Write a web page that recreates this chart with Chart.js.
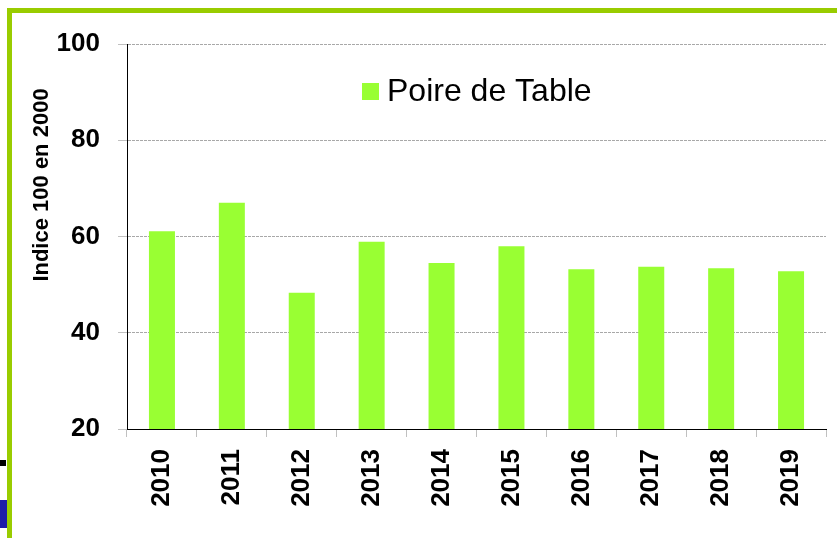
<!DOCTYPE html>
<html>
<head>
<meta charset="utf-8">
<script src="https://cdn.jsdelivr.net/npm/chart.js@4/dist/chart.umd.min.js"></script>
<style>
  html, body { margin: 0; padding: 0; background: #fff; }
  #wrap { position: relative; width: 837px; height: 538px; overflow: hidden; }
  #frame { position: absolute; left: 7px; top: 8px; right: -10px; bottom: -10px;
           border-top: 5px solid #99cc00; border-left: 5px solid #99cc00; }
  #mark1 { position: absolute; left: 0; top: 460px; width: 6px; height: 6px; background: #000; }
  #mark2 { position: absolute; left: 0; top: 500px; width: 7px; height: 28px; background: #1c1ca8; }
  canvas { position: absolute; left: 0; top: 0; }
</style>
</head>
<body>
<div id="wrap">
  <div id="frame"></div>
  <div id="mark1"></div>
  <div id="mark2"></div>
  <canvas id="chart" width="837" height="538"></canvas>
</div>
<script>
// data
const years = ['2010', '2011', '2012', '2013', '2014', '2015', '2016', '2017', '2018', '2019'];
const poireValues = [61.1, 67.0, 48.3, 58.9, 54.5, 58.0, 53.2, 53.7, 53.4, 52.8];
const seriesName = 'Poire de Table';
const yTitle = 'Indice 100 en 2000';

const fontFamily = '"Liberation Sans", Arial, sans-serif';

// legend + y title drawn by hand so they sit where the original has them
const extrasPlugin = {
  id: 'extras',
  afterDraw(chart) {
    const ctx = chart.ctx;
    const ds = chart.data.datasets[0];
    ctx.save();
    // legend inside the plot
    ctx.fillStyle = ds.backgroundColor;
    ctx.fillRect(362, 83, 17, 17);
    ctx.fillStyle = '#000';
    ctx.font = '32px ' + fontFamily;
    ctx.textBaseline = 'middle';
    ctx.textAlign = 'left';
    ctx.fillText(ds.label, 387, 92);
    // y axis title
    ctx.translate(42, 185);
    ctx.rotate(-Math.PI / 2);
    ctx.font = 'bold 22px ' + fontFamily;
    ctx.textAlign = 'center';
    ctx.fillText(yTitle, 0, 0);
    ctx.restore();
  }
};

const ctx = document.getElementById('chart').getContext('2d');
new Chart(ctx, {
  type: 'bar',
  data: {
    labels: years,
    datasets: [{
      label: seriesName,
      data: poireValues,
      backgroundColor: '#99ff33',
      borderWidth: 0,
      barPercentage: 0.372,
      categoryPercentage: 1
    }]
  },
  options: {
    responsive: false,
    animation: false,
    layout: { padding: { top: 44, right: 11, left: 0, bottom: 0 } },
    plugins: {
      legend: { display: false },
      tooltip: { enabled: false }
    },
    scales: {
      x: {
        afterFit: (scale) => { scale.height = 109; },
        grid: {
          offset: true,
          drawOnChartArea: false,
          drawTicks: true,
          tickLength: 8,
          color: '#c0c0c0'
        },
        border: { color: '#000', width: 1 },
        ticks: {
          color: '#000',
          font: { family: fontFamily, size: 26, weight: 'bold' },
          minRotation: 90,
          maxRotation: 90,
          padding: 12
        }
      },
      y: {
        min: 20,
        max: 100,
        afterFit: (scale) => { scale.width = 127; },
        grid: {
          color: '#a8a8a8',
          tickColor: '#c0c0c0',
          tickLength: 9,
          tickBorderDash: []
        },
        border: { color: '#000', width: 1, dash: [3, 1] },
        ticks: {
          stepSize: 20,
          color: '#000',
          padding: 18,
          font: { family: fontFamily, size: 26, weight: 'bold' }
        }
      }
    }
  },
  plugins: [extrasPlugin]
});
</script>
</body>
</html>
